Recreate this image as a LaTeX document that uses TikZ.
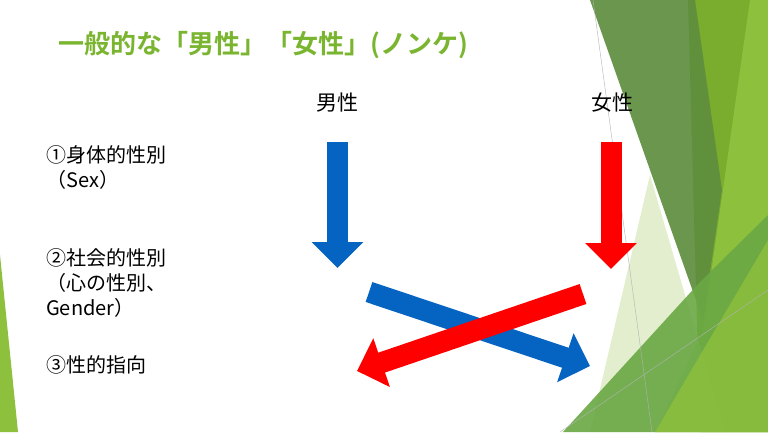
\documentclass[tikz,border=0pt]{standalone}
\usepackage{fontspec}
\setmainfont{Noto Sans CJK JP}
\newfontfamily\jpb{Noto Sans CJK JP Bold}
\usetikzlibrary{arrows.meta}
\definecolor{ttl}{HTML}{7AB530}
\definecolor{dkg}{HTML}{5E8E3E}
\definecolor{olv}{HTML}{7AAC2E}
\definecolor{brg}{HTML}{8DC03C}
\definecolor{mdg}{HTML}{6AA844}
\definecolor{pal}{HTML}{D6E8B8}
\definecolor{bl}{HTML}{0563C1}
\definecolor{rd}{HTML}{FF0000}
\tikzset{lbl/.style={anchor=west,font=\fontsize{20}{22}\selectfont,inner sep=0pt},
 hd/.style={font=\fontsize{21}{23}\selectfont,inner sep=0pt},
 bigarrow/.style={line width=21pt,-{Triangle[length=26pt,width=50pt]}}}
\begin{document}
\begin{tikzpicture}[x=1pt,y=-1pt]
\useasboundingbox (0,0) rectangle (768,432);
\fill[white] (0,0) rectangle (768,432);
% background shapes
\fill[olv] (688,0) -- (768,0) -- (768,432) -- (700,432) -- cycle;
\fill[brg] (750,0) -- (768,0) -- (768,432) -- (655,432) -- (703,330) -- cycle;
\fill[pal,opacity=0.7] (590,432) -- (650,175) -- (725,432) -- cycle;
\fill[dkg,opacity=0.92] (590,0) -- (695,0) -- (722,190) -- (703,320) -- cycle;
\fill[mdg,opacity=0.9] (563,432) -- (700,282) -- (768,215) -- (768,432) -- cycle;
\fill[brg,opacity=0.8] (655,432) -- (768,240) -- (768,432) -- cycle;
\fill[brg] (0,255) -- (18,432) -- (0,432) -- cycle;
\draw[gray!60,line width=0.4pt] (593,0) -- (652,432);
\draw[gray!60,line width=0.4pt] (560,432) -- (768,290);
% title
\node[anchor=west,text=ttl,font=\jpb\fontsize{26}{28}\selectfont,inner sep=0pt] (title) at (58,45) {一般的な「男性」「女性」(ノンケ)};
\node[hd] (m) at (337,103) {男性};
\node[hd] (f) at (612,103) {女性};
\node[lbl] (t1) at (46,155) {①身体的性別};
\node[lbl] (t2) at (46,180) {（Sex）};
\node[lbl] (t3) at (46,258) {②社会的性別};
\node[lbl] (t4) at (46,283) {（心の性別、};
\node[lbl] (t5) at (46,308) {Gender）};
\node[lbl] (t6) at (46,365) {③性的指向};
% arrows
\coordinate (ma) at (337.5,142);
\coordinate (mb) at (337.5,268);
\coordinate (fa) at (611,142);
\coordinate (fb) at (611,269);
\coordinate (ba) at (369,292);
\coordinate (bb) at (590,366);
\coordinate (ra) at (583,294);
\coordinate (rb) at (357,371);
\draw[bl,bigarrow] (ma) -- (mb);
\draw[rd,bigarrow] (fa) -- (fb);
\draw[bl,bigarrow] (ba) -- (bb);
\draw[rd,bigarrow] (ra) -- (rb);
\end{tikzpicture}
\end{document}
